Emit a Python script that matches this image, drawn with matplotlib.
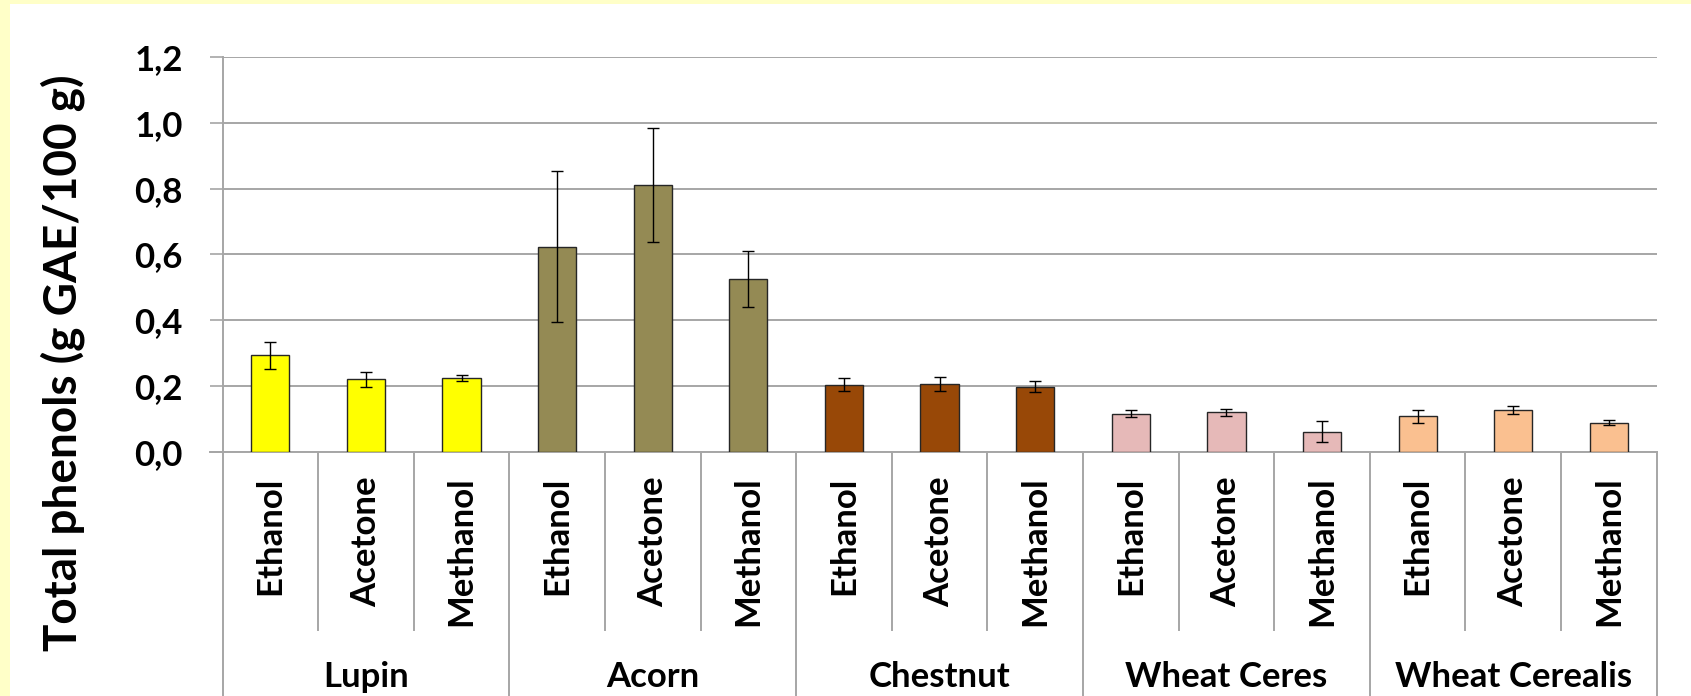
import matplotlib
matplotlib.use("Agg")
import matplotlib.pyplot as plt
import matplotlib.transforms as mtransforms
from matplotlib.patches import Rectangle
import numpy as np

# data
groups = ["Lupin", "Acorn", "Chestnut", "Wheat Ceres", "Wheat Cerealis"]
solvents = ["Ethanol", "Acetone", "Methanol"]
values = [
    [0.293, 0.220, 0.224],   # Lupin
    [0.624, 0.811, 0.525],   # Acorn
    [0.203, 0.206, 0.198],   # Chestnut
    [0.115, 0.119, 0.061],   # Wheat Ceres
    [0.107, 0.126, 0.088],   # Wheat Cerealis
]
errors = [
    [0.042, 0.023, 0.009],
    [0.231, 0.174, 0.086],
    [0.020, 0.022, 0.017],
    [0.011, 0.012, 0.031],
    [0.019, 0.012, 0.007],
]
group_colors = ["#FFFF00", "#948A54", "#984807", "#E6B9B8", "#FAC090"]

W, H = 1691, 696
plt.rcParams['font.family'] = ['Lato', 'DejaVu Sans']
plt.rcParams['font.weight'] = 'bold'

fig = plt.figure(figsize=(W / 100, H / 100), dpi=100)
fig.patch.set_facecolor("#FFFFC8")
# white panel inside the pale yellow frame
fig.patches.append(Rectangle((10 / W, 0), 1, 1 - 4 / H, transform=fig.transFigure,
                             facecolor="white", edgecolor="none", zorder=-10))

ax = fig.add_axes([222.5 / W, 1 - 451.6 / H, (1656.7 - 222.5) / W, (451.6 - 57.3) / H])
ax.set_facecolor("white")

n = len(solvents)
vals = np.array(values).ravel()
errs = np.array(errors).ravel()
cols = np.repeat(group_colors, n)
x = np.arange(len(vals))

grid_c = "#A6A6A6"
ax.bar(x, vals, width=0.40, color=cols, edgecolor="#262626", linewidth=1.0, zorder=3)
ax.errorbar(x, vals, yerr=errs, fmt="none", ecolor="black", elinewidth=1.0,
            capsize=4.5, capthick=1.0, zorder=4)

ax.set_xlim(-0.5, len(vals) - 0.5)
ax.set_ylim(0, 1.2)
ax.set_yticks(np.arange(0, 1.21, 0.2))
ax.set_yticklabels([f"{v:.1f}".replace(".", ",") for v in np.arange(0, 1.21, 0.2)],
                   fontsize=25, fontweight="bold")
ax.tick_params(axis="y", length=9.5, width=1.2, color=grid_c, pad=19)
ax.set_xticks([])
ax.yaxis.grid(True, color=grid_c, linewidth=1.4, zorder=0)
for s in ["top", "right", "bottom"]:
    ax.spines[s].set_visible(False)
ax.spines["left"].set_color(grid_c)
ax.spines["left"].set_linewidth(1.4)
ax.axhline(0, color=grid_c, linewidth=1.4, zorder=2, xmin=-13 / 1434.2, clip_on=False)

ax.set_ylabel("Total phenols (g GAE/100 g)", fontsize=33, fontweight="bold")
ax.yaxis.set_label_coords(-0.096, 0.225)

trans = mtransforms.blended_transform_factory(ax.transData, ax.transAxes)
# separators below the axis
for i in range(len(vals) + 1):
    xb = i - 0.5
    if i % n == 0:
        ax.plot([xb, xb], [0, -0.62], transform=trans, color=grid_c, lw=1.4, clip_on=False)
    else:
        ax.plot([xb, xb], [0, -0.4524], transform=trans, color=grid_c, lw=1.4, clip_on=False)

for i, xi in enumerate(x):
    ax.text(xi, -0.064, solvents[i % n], transform=trans, rotation=90,
            ha="center", va="top", fontsize=25, fontweight="bold")
for g, name in enumerate(groups):
    ax.text(g * n + 1, -0.572, name, transform=trans, ha="center", va="center",
            fontsize=25, fontweight="bold")

fig.savefig("out.png", dpi=100, facecolor=fig.get_facecolor())
